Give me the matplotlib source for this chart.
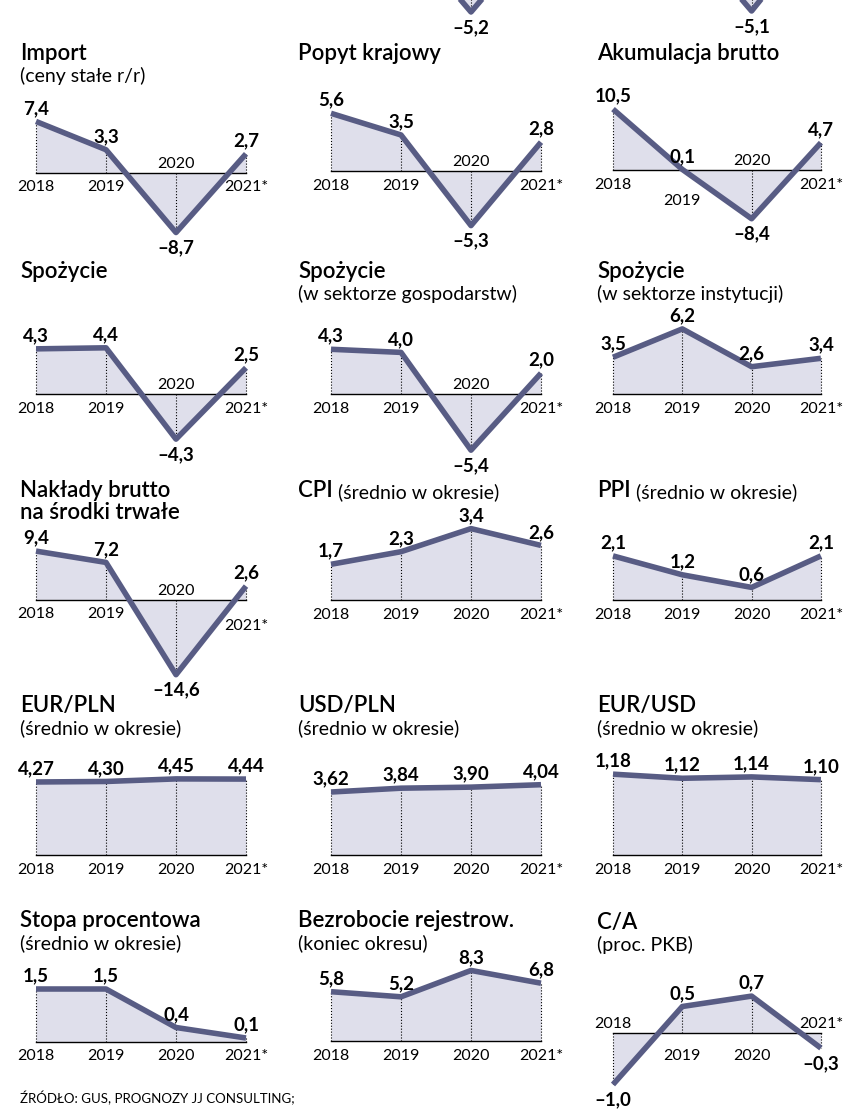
import matplotlib.pyplot as plt

plt.rcParams['font.family'] = ['Lato', 'DejaVu Sans']

# --- data ---
years = ['2018', '2019', '2020', '2021*']
import_vals = [7.4, 3.3, -8.7, 2.7]
popyt_vals = [5.6, 3.5, -5.3, 2.8]
akum_vals = [10.5, 0.1, -8.4, 4.7]
spoz_vals = [4.3, 4.4, -4.3, 2.5]
spoz_gosp_vals = [4.3, 4.0, -5.4, 2.0]
spoz_inst_vals = [3.5, 6.2, 2.6, 3.4]
naklady_vals = [9.4, 7.2, -14.6, 2.6]
cpi_vals = [1.7, 2.3, 3.4, 2.6]
ppi_vals = [2.1, 1.2, 0.6, 2.1]
eurpln_vals = [4.27, 4.30, 4.45, 4.44]
usdpln_vals = [3.62, 3.84, 3.90, 4.04]
eurusd_vals = [1.18, 1.12, 1.14, 1.10]
stopa_vals = [1.5, 1.5, 0.4, 0.1]
bezrob_vals = [5.8, 5.2, 8.3, 6.8]
ca_vals = [-1.0, 0.5, 0.7, -0.3]
# row cut off at the top of the page (only the 2020 dip is visible)
top_mid_vals = [4.0, 3.0, -5.2, 3.0]
top_right_vals = [4.5, 3.0, -5.1, 3.5]

W, H = 848, 1117
fig = plt.figure(figsize=(W / 100, H / 100), dpi=100)

LINE = '#585c84'
FILL = '#dfdfeb'
col_x = [36, 331, 613]
col_dx = [70, 70, 69.3]
title_x = [20, 298, 597]
VAL_FS, YEAR_FS, TITLE_FS, SUB_FS = 13.5, 11.5, 16, 14


def fmt(v, d):
    s = f'{abs(v):.{d}f}'.replace('.', ',')
    return ('–' if v < 0 else '') + s


def panel(vals, col, yb, s, d=1, low=None, cut=False):
    low = low or {}
    x0, dx = col_x[col], col_dx[col]
    ax = fig.add_axes([x0 / W, 1 - (yb + 200) / H, 3 * dx / W, 400 / H])
    ax.set_xlim(0, 3)
    ax.set_ylim(-200 / s, 200 / s)
    ax.axis('off')
    xs = list(range(len(vals)))
    ax.fill_between(xs, vals, 0, color=FILL, lw=0, clip_on=False)
    ax.plot([0, 3], [0, 0], color='black', lw=1, clip_on=False)
    ax.vlines(xs, 0, vals, colors='black', linestyles=':', lw=0.8, clip_on=False)
    ax.plot(xs, vals, color=LINE, lw=4, solid_joinstyle='round',
            solid_capstyle='butt', clip_on=False)
    for i, v in enumerate(vals):
        if v >= 0:
            if not cut:
                ax.annotate(fmt(v, d), (i, v), xytext=(0, 5.5), textcoords='offset points',
                            ha='center', va='baseline', fontsize=VAL_FS, fontweight='bold')
        else:
            ax.annotate(fmt(v, d), (i, v), xytext=(0, -5), textcoords='offset points',
                        ha='center', va='top', fontsize=VAL_FS, fontweight='bold')
        if cut:
            continue
        if i in low:
            ax.annotate(years[i], (i, 0), xytext=(0, low[i]), textcoords='offset points',
                        ha='center', va='top', fontsize=YEAR_FS)
        elif v < 0:
            ax.annotate(years[i], (i, 0), xytext=(0, 3.5), textcoords='offset points',
                        ha='center', va='baseline', fontsize=YEAR_FS)
        else:
            ax.annotate(years[i], (i, 0), xytext=(0, -5.5), textcoords='offset points',
                        ha='center', va='top', fontsize=YEAR_FS)
    return ax


def title(col, y, text, sub=None):
    fig.text(title_x[col] / W, 1 - y / H, text, fontsize=TITLE_FS, fontweight='semibold',
             va='baseline')
    if sub:
        fig.text(title_x[col] / W, 1 - (y + 22) / H, sub, fontsize=SUB_FS, va='baseline')


def title_inline(col, y, text, sub):
    t = fig.text(title_x[col] / W, 1 - y / H, text, fontsize=TITLE_FS,
                 fontweight='semibold', va='baseline')
    plt.annotate(' ' + sub, xy=(1, 0), xycoords=t, fontsize=SUB_FS, va='bottom')


# top row (cut off)
panel(top_mid_vals, 1, -40, 10, cut=True)
panel(top_right_vals, 2, -40, 10, cut=True)

# row 1
panel(import_vals, 0, 172.5, 6.9)
panel(popyt_vals, 1, 171, 10.3)
panel(akum_vals, 2, 170, 5.8, low={1: -17.5})
title(0, 60, 'Import', '(ceny stałe r/r)')
title(1, 60, 'Popyt krajowy')
title(2, 60, 'Akumulacja brutto')

# row 2
panel(spoz_vals, 0, 394, 10.5)
panel(spoz_gosp_vals, 1, 394, 10.4)
panel(spoz_inst_vals, 2, 394, 10.5)
title(0, 278, 'Spożycie')
title(1, 278, 'Spożycie', '(w sektorze gospodarstw)')
title(2, 278, 'Spożycie', '(w sektorze instytucji)')

# row 3
panel(naklady_vals, 0, 599.5, 5.15, low={3: -14})
panel(cpi_vals, 1, 600, 21)
panel(ppi_vals, 2, 600, 21)
title(0, 497, 'Nakłady brutto')
title(0, 519, 'na środki trwałe')
title_inline(1, 497, 'CPI', '(średnio w okresie)')
title_inline(2, 497, 'PPI', '(średnio w okresie)')

# row 4
panel(eurpln_vals, 0, 855, 17.1, d=2)
panel(usdpln_vals, 1, 855, 17.4, d=2)
panel(eurusd_vals, 2, 855, 68.5, d=2)
title(0, 712, 'EUR/PLN', '(średnio w okresie)')
title(1, 712, 'USD/PLN', '(średnio w okresie)')
title(2, 712, 'EUR/USD', '(średnio w okresie)')

# row 5
panel(stopa_vals, 0, 1041.5, 35)
panel(bezrob_vals, 1, 1041, 8.5)
panel(ca_vals, 2, 1032.5, 52, low={1: -12, 2: -12})
title(0, 927, 'Stopa procentowa', '(średnio w okresie)')
title(1, 927, 'Bezrobocie rejestrow.', '(koniec okresu)')
title(2, 929, 'C/A', '(proc. PKB)')

fig.text(20 / W, 1 - 1098 / H, 'ŹRÓDŁO: GUS, PROGNOZY JJ CONSULTING;', fontsize=9.5,
         va='center')

fig.savefig('out.png', dpi=100, facecolor='white')
